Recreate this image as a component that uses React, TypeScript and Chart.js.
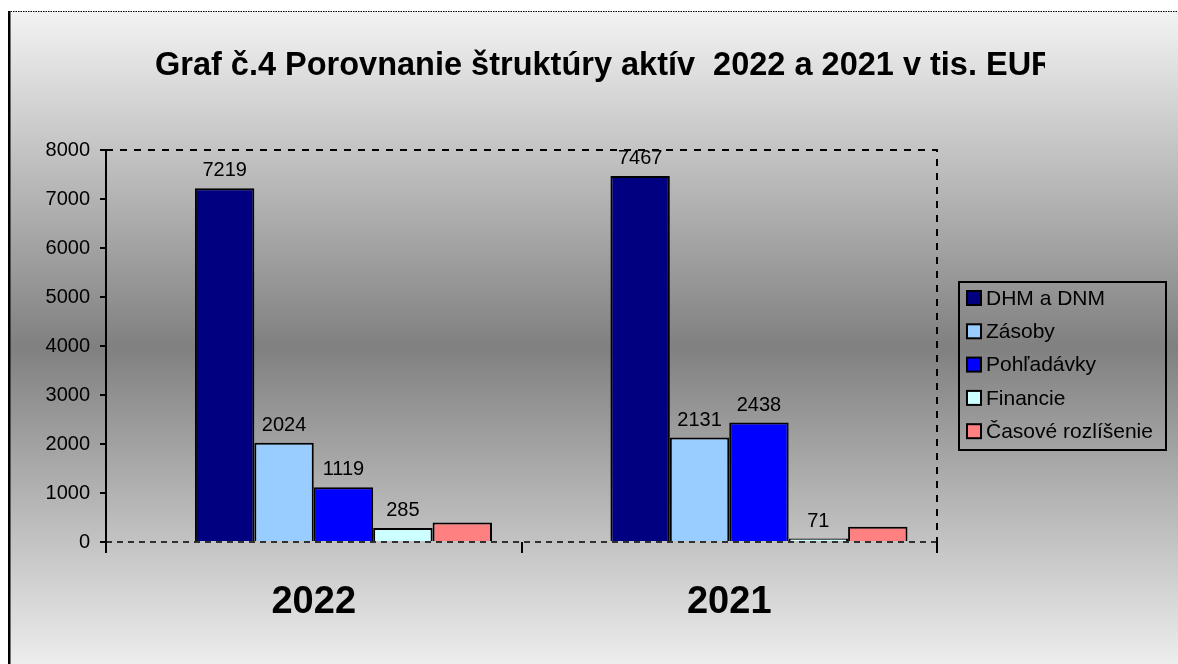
import React, { useEffect, useRef } from "react";
import { Chart, registerables } from "chart.js";

Chart.register(...registerables);

const titleText = "Graf č.4 Porovnanie štruktúry aktív  2022 a 2021 v tis. EUR";
const categories = ["2022", "2021"];
const seriesNames = ["DHM a DNM", "Zásoby", "Pohľadávky", "Financie", "Časové rozlíšenie"];
const dhmValues = [7219, 7467];
const zasobyValues = [2024, 2131];
const pohladavkyValues = [1119, 2438];
const financieValues = [285, 71];
const casoveValues = [400, 310];
const showValueLabels = [true, true, true, true, false];
const yMin = 0;
const yMax = 8000;
const yStep = 1000;

const seriesColors = ["#000080", "#99CCFF", "#0000FF", "#CCFFFF", "#FF8080"];
const FONT = "'Liberation Sans', Arial, sans-serif";

const bgPlugin = {
  id: "bgPlugin",
  beforeDraw(chart: any) {
    const { ctx, width, height } = chart;
    ctx.save();
    ctx.fillStyle = "#ffffff";
    ctx.fillRect(0, 0, width, height);
    const g = ctx.createLinearGradient(0, 12, 0, 682);
    g.addColorStop(0, "#f3f3f3");
    g.addColorStop(0.5, "#808080");
    g.addColorStop(1, "#f3f3f3");
    ctx.fillStyle = g;
    ctx.fillRect(9, 12, width - 9, height - 12);
    ctx.strokeStyle = "#000";
    ctx.lineWidth = 2.5;
    ctx.beginPath();
    ctx.moveTo(9.25, 11);
    ctx.lineTo(9.25, height);
    ctx.stroke();
    ctx.lineWidth = 1.2;
    ctx.setLineDash([1.5, 1]);
    ctx.beginPath();
    ctx.moveTo(8, 11.5);
    ctx.lineTo(width, 11.5);
    ctx.stroke();
    ctx.restore();
  },
};

const frameAndLabelsPlugin = {
  id: "frameAndLabels",
  afterDatasetsDraw(chart: any) {
    const { ctx, chartArea } = chart;
    const { left, right, top, bottom } = chartArea;
    ctx.save();
    ctx.strokeStyle = "#000";
    ctx.lineWidth = 2;
    ctx.setLineDash([7, 7]);
    ctx.beginPath();
    ctx.moveTo(left, top);
    ctx.lineTo(right, top);
    ctx.lineTo(right, bottom);
    ctx.stroke();
    ctx.lineWidth = 1.6;
    ctx.setLineDash([6, 5]);
    ctx.beginPath();
    ctx.moveTo(left, bottom);
    ctx.lineTo(right, bottom);
    ctx.stroke();
    ctx.setLineDash([]);
    // value labels
    ctx.fillStyle = "#000";
    ctx.font = `20px ${FONT}`;
    ctx.textAlign = "center";
    ctx.textBaseline = "alphabetic";
    chart.data.datasets.forEach((ds: any, di: number) => {
      if (!ds.showValue) return;
      const meta = chart.getDatasetMeta(di);
      meta.data.forEach((el: any, i: number) => {
        const v = ds.data[i];
        if (v == null) return;
        ctx.fillText(String(v), el.x, el.y - 12);
      });
    });
    ctx.restore();
  },
  afterDraw(chart: any) {
    const { ctx } = chart;
    ctx.save();
    // title (clipped like the original)
    ctx.beginPath();
    ctx.rect(0, 0, 1045, chart.height);
    ctx.clip();
    ctx.fillStyle = "#000";
    ctx.font = `bold 32.5px ${FONT}`;
    ctx.textAlign = "left";
    ctx.textBaseline = "alphabetic";
    ctx.fillText(titleText, 155, 75);
    ctx.restore();

    // legend
    ctx.save();
    ctx.strokeStyle = "#000";
    ctx.lineWidth = 2;
    ctx.strokeRect(959, 282, 207, 168);
    ctx.font = `21px ${FONT}`;
    ctx.textAlign = "left";
    ctx.textBaseline = "middle";
    const items = chart.data.datasets.filter((d: any) => d.label);
    items.forEach((ds: any, i: number) => {
      const cy = 298 + i * 33.3;
      ctx.fillStyle = ds.backgroundColor;
      ctx.fillRect(967, cy - 7, 14, 14);
      ctx.lineWidth = 2;
      ctx.strokeStyle = "#000";
      ctx.strokeRect(967, cy - 7, 14, 14);
      ctx.fillStyle = "#000";
      ctx.fillText(ds.label, 986, cy + 1);
    });
    ctx.restore();
  },
};

export default function App() {
  const ref = useRef<HTMLCanvasElement>(null);
  useEffect(() => {
    if (!ref.current) return;
    const seriesValues = [dhmValues, zasobyValues, pohladavkyValues, financieValues, casoveValues];
    const datasets: any[] = [
      {
        label: "",
        data: categories.map(() => null),
        backgroundColor: "rgba(0,0,0,0)",
        borderWidth: 0,
        showValue: false,
      },
    ];
    seriesNames.forEach((name, i) => {
      datasets.push({
        label: name,
        data: seriesValues[i],
        backgroundColor: seriesColors[i],
        borderColor: "#000",
        borderWidth: 2,
        borderSkipped: "bottom",
        showValue: showValueLabels[i],
      });
    });
    const chart = new Chart(ref.current, {
      type: "bar",
      data: { labels: categories, datasets },
      options: {
        animation: false,
        responsive: false,
        devicePixelRatio: 1,
        layout: { padding: { left: 10, right: 241, top: 150, bottom: 22 } },
        datasets: { bar: { categoryPercentage: 0.858, barPercentage: 1 } } as any,
        plugins: {
          legend: { display: false },
          title: { display: false },
          tooltip: { enabled: false },
        },
        scales: {
          x: {
            afterFit: (s: any) => {
              s.height = 100;
            },
            grid: {
              offset: true,
              drawOnChartArea: false,
              drawTicks: true,
              tickLength: 11,
              color: "#000",
              lineWidth: 2,
            },
            border: { display: false },
            ticks: {
              color: "#000",
              padding: 27,
              font: { family: FONT, size: 38, weight: "bold" },
            },
          },
          y: {
            min: yMin,
            max: yMax,
            afterFit: (s: any) => {
              s.width = 96;
            },
            grid: {
              drawOnChartArea: false,
              drawTicks: true,
              tickLength: 6,
              color: "#000",
              lineWidth: 2,
            },
            border: { display: true, color: "#000", width: 2 },
            ticks: {
              stepSize: yStep,
              color: "#000",
              padding: 10,
              font: { family: FONT, size: 20 },
              callback: (v: any) => String(v),
            },
          },
        },
      } as any,
      plugins: [bgPlugin, frameAndLabelsPlugin],
    });
    return () => chart.destroy();
  }, []);
  return (
    <div style={{ position: "fixed", left: 0, top: 0, width: 1178, height: 664 }}>
      <canvas ref={ref} width={1178} height={664} style={{ display: "block", width: 1178, height: 664 }} />
    </div>
  );
}
